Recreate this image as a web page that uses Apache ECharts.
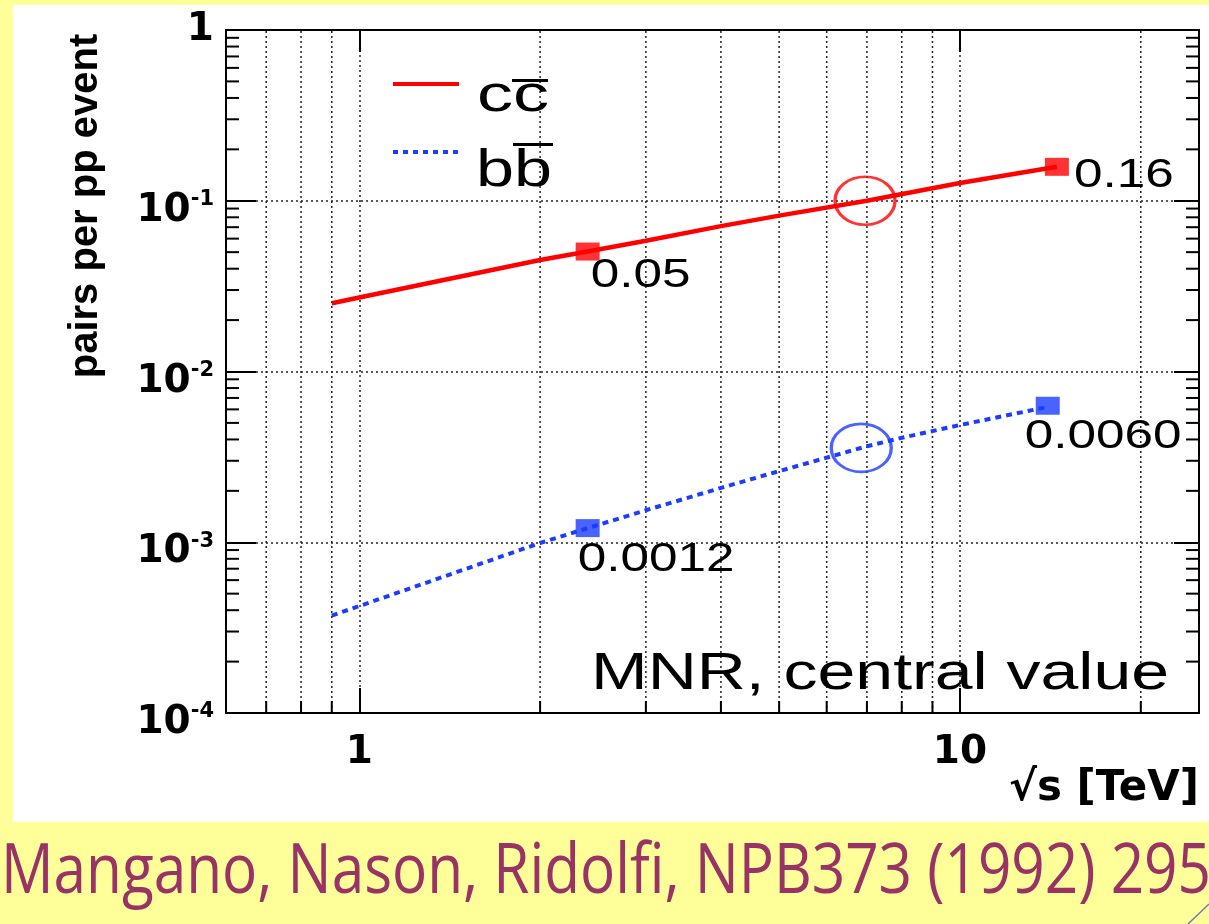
<!DOCTYPE html>
<html><head><meta charset="utf-8">
<script src="https://cdn.jsdelivr.net/npm/echarts@6/dist/echarts.min.js"></script>
<style>
html,body{margin:0;padding:0;background:#ffff99;overflow:hidden;}
#paper{position:absolute;left:13px;top:5px;width:1196px;height:817px;background:#fff;}
#c{position:absolute;left:0;top:0;width:1209px;height:924px;}
</style>
</head><body><div id="paper"></div><div id="c"></div>
<script>
// ---- axis ranges & tick values ----
const xMin = 0.6, xMax = 25, yMin = 1e-4, yMax = 1;
const xMinorTicks = [0.7, 0.8, 0.9, 2, 3, 4, 5, 6, 7, 8, 9, 20];
const yMinorTicks = [2e-4,3e-4,4e-4,5e-4,6e-4,7e-4,8e-4,9e-4,
                     2e-3,3e-3,4e-3,5e-3,6e-3,7e-3,8e-3,9e-3,
                     2e-2,3e-2,4e-2,5e-2,6e-2,7e-2,8e-2,9e-2,
                     0.2,0.3,0.4,0.5,0.6,0.7,0.8,0.9];
// ---- series data (sqrt(s) [TeV], pairs per pp event) ----
const ccLine = [[0.9,0.0251],[1,0.0271],[2,0.045],[2.4,0.0504],[3,0.0583],[4,0.071],[5,0.0818],[7,0.1],[10,0.127],[14.5,0.158]];
const bbLine = [[0.9,3.72e-4],[1,4.23e-4],[2,9.9e-4],[2.4,1.21e-3],[3,1.54e-3],[4,2.08e-3],[5,2.61e-3],[7,3.65e-3],[8,4.09e-3],[10,4.86e-3],[14,6.2e-3]];
const ccPoints = [[2.4,0.0504],[14.5,0.158]];
const bbPoints = [[2.4,1.21e-3],[14,6.3e-3]];
const ccLabels = ['0.05','0.16'];
const bbLabels = ['0.0012','0.0060'];
const ccCircle = [[6.95,0.1]];
const bbCircle = [[6.85,3.57e-3]];
const legendNames = ['cc', 'bb'];

// ---- layout (styles) ----
const ccLabelOff = [[3,24],[17,9]];
const bbLabelOff = [[-10,32],[-23,31]];
const RED = '#ff0000', BLUE = '#1c3cff';
const ctx = document.createElement('canvas').getContext('2d');
function sx(text, font, target){ ctx.font = font; return target / ctx.measureText(text).width; }

const labelFont = '41px "Liberation Sans"';
function labelSeries(points, labels, offs){
  return {
    type:'custom', z:6, silent:true, data: points,
    renderItem: (params, api) => {
      const p = api.coord([api.value(0), api.value(1)]);
      const i = params.dataIndex;
      return {type:'text', x:p[0]+offs[i][0], y:p[1]+offs[i][1], scaleX:1.25,
        style:{text:labels[i], font:labelFont, fill:'#000', align:'left', verticalAlign:'middle'}};
    }
  };
}

const chart = echarts.init(document.getElementById('c'), null, {renderer:'canvas'});
const boldD = {fontFamily:'DejaVu Sans', fontWeight:'bold', color:'#000'};
const isPow = v => Math.abs(Math.log10(v) - Math.round(Math.log10(v))) < 1e-6;

const mnrFont = '52px "Liberation Sans"';
const legFont = '52px "Liberation Sans"';
const footFont = '500 70px "Open Sans"';
const footText = 'Mangano, Nason, Ridolfi, NPB373 (1992) 295';

const option = {
  backgroundColor:'transparent',
  animation:false,
  grid:{left:226, right:10, top:30, bottom:211, show:true, borderColor:'#000', borderWidth:2, backgroundColor:'transparent'},
  xAxis:[{
    type:'log', logBase:10, min:xMin, max:xMax, position:'bottom',
    axisLine:{show:true, lineStyle:{color:'#000', width:2}},
    axisTick:{show:true, inside:true, length:25, lineStyle:{color:'#000', width:2}},
    axisLabel:Object.assign({margin:20, fontSize:39, formatter: v => isPow(v) ? String(Math.round(v)) : ''}, boldD),
    splitLine:{show:true, lineStyle:{color:'#222', width:1.5, type:[2,3]}},
    minorTick:{show:false}, minorSplitLine:{show:false},
    name:'√s [TeV]', nameLocation:'end', nameGap:0,
    nameTextStyle:Object.assign({fontSize:42, align:'right', verticalAlign:'top', padding:[55,0,0,0]}, boldD)
  },{
    type:'log', logBase:10, min:xMin, max:xMax, position:'top',
    axisLine:{show:true, lineStyle:{color:'#000', width:2}},
    axisTick:{show:true, inside:true, length:22, lineStyle:{color:'#000', width:2}},
    axisLabel:{show:false}, splitLine:{show:false}
  }],
  yAxis:[{
    type:'log', logBase:10, min:yMin, max:yMax, position:'left',
    axisLine:{show:true, lineStyle:{color:'#000', width:2}},
    axisTick:{show:true, inside:true, length:30, lineStyle:{color:'#000', width:2}},
    axisLabel:{margin:12, align:'right',
      formatter: v => { if(!isPow(v)) return ''; const e = Math.round(Math.log10(v)); return e === 0 ? '{one|1}' : '{b|10}{s|' + e + '}'; },
      rich:{
        one:Object.assign({fontSize:39}, boldD),
        b:Object.assign({fontSize:39, verticalAlign:'bottom'}, boldD),
        s:Object.assign({fontSize:21, padding:[18,0,20,0], verticalAlign:'top'}, boldD)
      }},
    splitLine:{show:true, lineStyle:{color:'#222', width:1.5, type:[2,3]}},
    name:'pairs per pp event', nameLocation:'middle', nameRotate:90, nameGap:120,
    nameTextStyle:{fontFamily:'Liberation Sans', fontWeight:'bold', fontSize:40, color:'#000', padding:[0,0,0,331]}
  },{
    type:'log', logBase:10, min:yMin, max:yMax, position:'right',
    axisLine:{show:true, lineStyle:{color:'#000', width:2}},
    axisTick:{show:true, inside:true, length:25, lineStyle:{color:'#000', width:2}},
    axisLabel:{show:false}, splitLine:{show:false}
  }],
  series:[
    { // minor x grid lines + bottom ticks
      type:'custom', z:1, silent:true, data: xMinorTicks.map(v => [v, yMin]),
      renderItem:(params, api) => {
        const x = api.value(0);
        const b = api.coord([x, yMin]), t = api.coord([x, yMax]);
        return {type:'group', children:[
          {type:'line', shape:{x1:b[0], y1:b[1], x2:t[0], y2:t[1]}, style:{stroke:'#222', lineWidth:1.5, lineDash:[2,3]}},
          {type:'line', shape:{x1:b[0], y1:b[1], x2:b[0], y2:b[1]-12}, style:{stroke:'#000', lineWidth:2}}
        ]};
      }
    },
    { // minor y ticks left & right
      type:'custom', z:1, silent:true, data: yMinorTicks.map(v => [xMin, v]),
      renderItem:(params, api) => {
        const y = api.value(1);
        const l = api.coord([xMin, y]), r = api.coord([xMax, y]);
        return {type:'group', children:[
          {type:'line', shape:{x1:l[0], y1:l[1], x2:l[0]+13, y2:l[1]}, style:{stroke:'#000', lineWidth:2}},
          {type:'line', shape:{x1:r[0], y1:r[1], x2:r[0]-13, y2:r[1]}, style:{stroke:'#000', lineWidth:2}}
        ]};
      }
    },
    {name:'cc', type:'line', z:3, data:ccLine, showSymbol:false, symbol:'none', smooth:false,
     lineStyle:{color:RED, width:4.5}, itemStyle:{color:RED}},
    {name:'bb', type:'line', z:3, data:bbLine, showSymbol:false, symbol:'none', smooth:false,
     lineStyle:{color:BLUE, width:4, type:[6,5]}, itemStyle:{color:BLUE}},
    {type:'scatter', z:4, data:ccPoints, symbol:'rect', symbolSize:[24,18], itemStyle:{color:RED}},
    {type:'scatter', z:4, data:bbPoints, symbol:'rect', symbolSize:[24,18], itemStyle:{color:BLUE}},
    {type:'scatter', z:5, data:ccCircle, symbol:'circle', symbolSize:[60,48],
     itemStyle:{color:'rgba(0,0,0,0)', borderColor:RED, borderWidth:3}},
    {type:'scatter', z:5, data:bbCircle, symbol:'circle', symbolSize:[60,48],
     itemStyle:{color:'rgba(0,0,0,0)', borderColor:BLUE, borderWidth:3}},
    labelSeries(ccPoints, ccLabels, ccLabelOff),
    labelSeries(bbPoints, bbLabels, bbLabelOff)
  ],
  graphic:[
    // legend
    {type:'line', z:100, shape:{x1:393, y1:84, x2:459, y2:84}, style:{stroke:RED, lineWidth:4}},
    {type:'line', z:100, shape:{x1:393, y1:152, x2:459, y2:152}, style:{stroke:BLUE, lineWidth:4, lineDash:[5,5]}},
    {type:'text', z:100, x:477, y:97, scaleX:sx(legendNames[0], legFont, 72),
     style:{text:legendNames[0], font:legFont, fill:'#000', align:'left', verticalAlign:'middle'}},
    {type:'rect', z:100, shape:{x:512, y:79, width:36, height:3}, style:{fill:'#000'}},
    {type:'text', z:100, x:476, y:172, scaleX:sx(legendNames[1], legFont, 76),
     style:{text:legendNames[1], font:legFont, fill:'#000', align:'left', verticalAlign:'middle'}},
    {type:'rect', z:100, shape:{x:513, y:143, width:40, height:3}, style:{fill:'#000'}},
    // annotation
    {type:'text', z:100, x:591, y:675, scaleX:sx('MNR, central value', mnrFont, 578),
     style:{text:'MNR, central value', font:mnrFont, fill:'#000', align:'left', verticalAlign:'middle'}},
    // footer
    {type:'text', z:100, x:1, y:873, scaleX:sx(footText, footFont, 1210),
     style:{text:footText, font:footFont, fill:'#993366', align:'left', verticalAlign:'middle'}},
    {type:'line', z:100, shape:{x1:1188, y1:924, x2:1209, y2:904}, style:{stroke:'#6f7fa8', lineWidth:1.5}}
  ]
};
chart.setOption(option);
</script>
</body></html>
